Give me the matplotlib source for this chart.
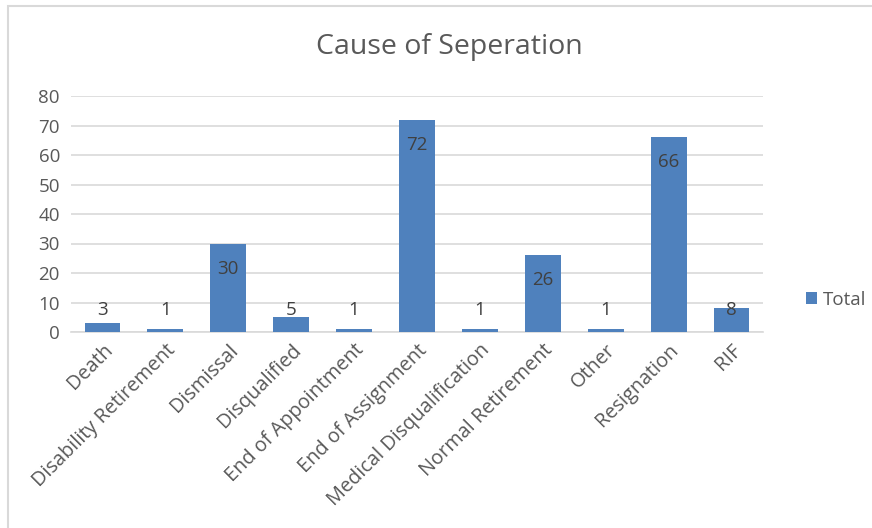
#Cause of separation bar chart (Excel style)
import matplotlib.pyplot as plt
from matplotlib.patches import Rectangle

#data
causes = ["Death", "Disability Retirement", "Dismissal", "Disqualified",
          "End of Appointment", "End of Assignment", "Medical Disqualification",
          "Normal Retirement", "Other", "Resignation", "RIF"]
totals = [3, 1, 30, 5, 1, 72, 1, 26, 1, 66, 8]
y_ticks = [0, 10, 20, 30, 40, 50, 60, 70, 80]

plt.rcParams['font.family'] = ['Open Sans', 'DejaVu Sans']
text_color = "#595959"
bar_color = "#4F81BD"
grid_color = "#D9D9D9"

fig = plt.figure(figsize=(8.72, 5.28), dpi=100)
ax = fig.add_axes([71/872, 1-332/528, (763-71)/872, (332-96)/528])

x = range(len(causes))
bars = ax.bar(x, totals, width=0.57, color=bar_color, label="Total", zorder=3)

#labels at inside end, kept above the axis for the short bars
for xi, v in zip(x, totals):
    ypos = max(v - 8.5, 7.6)
    ax.text(xi, ypos, str(v), ha="center", va="center", fontsize=13.5,
            color="#404040", zorder=4)

ax.set_ylim(0, 80)
ax.set_xlim(-0.5, len(causes) - 0.5)
ax.set_yticks(y_ticks)
ax.set_xticks(list(x))
ax.set_xticklabels(causes, rotation=45, ha="right", rotation_mode="anchor")
ax.tick_params(axis="both", length=0, colors=text_color, labelsize=13.5)
ax.tick_params(axis="x", labelsize=14.3, pad=6)
ax.tick_params(axis="y", pad=8)
ax.yaxis.grid(True, color=grid_color, linewidth=1.2, zorder=0)
for s in ["top", "right", "left"]:
    ax.spines[s].set_visible(False)
ax.spines["bottom"].set_color(grid_color)
ax.spines["bottom"].set_linewidth(1.2)

fig.suptitle("Cause of Seperation", x=449/872, y=1-47/528, va="center",
             fontsize=20.5, color=text_color)

leg = fig.legend(handles=[bars], labels=["Total"], loc="center left",
                 bbox_to_anchor=(798/872, 1-300/528), frameon=False,
                 fontsize=13.5, handlelength=0.6, handleheight=0.6,
                 handletextpad=0.3, borderaxespad=0)
for t in leg.get_texts():
    t.set_color(text_color)

#chart border (cropped screenshot: only left and top visible)
fig.patches.append(Rectangle((8/872, -0.1), 1.2, 1.1 - 6/528,
                             transform=fig.transFigure, fill=False,
                             edgecolor="#D9D9D9", linewidth=1.5))

fig.savefig("out.png", dpi=100)
